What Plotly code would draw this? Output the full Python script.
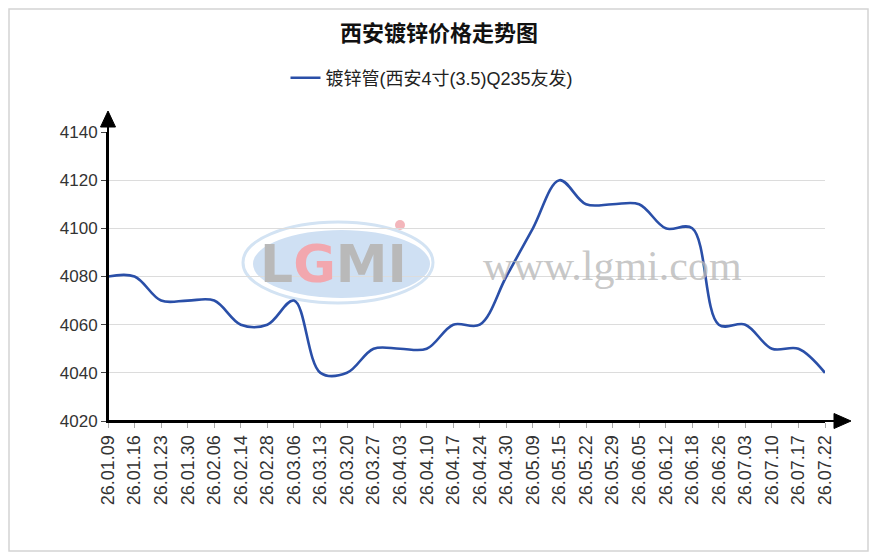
import plotly.graph_objects as go

# price series (yuan/ton)
dates = ["26.01.09", "26.01.16", "26.01.23", "26.01.30", "26.02.06", "26.02.14",
         "26.02.28", "26.03.06", "26.03.13", "26.03.20", "26.03.27", "26.04.03",
         "26.04.10", "26.04.17", "26.04.24", "26.04.30", "26.05.09", "26.05.15",
         "26.05.22", "26.05.29", "26.06.05", "26.06.12", "26.06.18", "26.06.26",
         "26.07.03", "26.07.10", "26.07.17", "26.07.22"]
prices = [4080, 4080, 4070, 4070, 4070, 4060, 4060, 4070, 4040, 4040, 4050, 4050,
          4050, 4060, 4060, 4080, 4100, 4120, 4110, 4110, 4110, 4100, 4100, 4060,
          4060, 4050, 4050, 4040]
y_ticks = [4020, 4040, 4060, 4080, 4100, 4120, 4140]

series_name = "镀锌管(西安4寸(3.5)Q235友发)"
title = "西安镀锌价格走势图"

# page body has an 8px margin, so the figure is drawn 8px in from the corner
OFF = 8
W, H = 878 - OFF, 560 - OFF
X0, X1, Y0, Y1 = 108, 825, 132, 421   # plot area in page pixels
FONT = "Liberation Sans, Arial, Noto Sans CJK SC, sans-serif"


# page pixel -> paper / container helpers for the decorations
def px(x):
    return (x - X0) / (X1 - X0)


def py(y):
    return (Y1 - y) / (Y1 - Y0)


def cx(x):
    return (x - OFF) / W


def cy(y):
    return 1 - (y - OFF) / H


fig = go.Figure()

fig.add_trace(go.Scatter(
    x=dates, y=prices, mode="lines", name=series_name,
    line=dict(color="#2a4fa8", width=2.6, shape="spline", smoothing=1),
))

shapes = []
# outer frame
shapes.append(dict(type="rect", xref="paper", yref="paper",
                   x0=px(9), x1=px(868), y0=py(551), y1=py(9),
                   line=dict(color="#d4d4d4", width=1.5), layer="below"))
# watermark logo ellipses
shapes.append(dict(type="circle", xref="paper", yref="paper",
                   x0=px(243), x1=px(433), y0=py(303), y1=py(222),
                   line=dict(color="#d3e3f3", width=3), fillcolor="rgba(0,0,0,0)",
                   layer="between"))
shapes.append(dict(type="circle", xref="paper", yref="paper",
                   x0=px(253), x1=px(430), y0=py(298), y1=py(230),
                   line=dict(width=0), fillcolor="#cfe0f3", layer="between"))
shapes.append(dict(type="circle", xref="paper", yref="paper",
                   x0=px(395), x1=px(405), y0=py(230), y1=py(220),
                   line=dict(width=0), fillcolor="#f3b6bb", layer="between"))
# axis extensions and arrow heads
shapes.append(dict(type="line", xref="paper", yref="paper",
                   x0=0, x1=0, y0=0, y1=py(124),
                   line=dict(color="black", width=2)))
shapes.append(dict(type="path", xref="paper", yref="paper",
                   path=f"M {px(108)},{py(111)} L {px(100.5)},{py(127)} "
                        f"L {px(115.5)},{py(127)} Z",
                   fillcolor="black", line=dict(color="black", width=1)))
shapes.append(dict(type="line", xref="paper", yref="paper",
                   x0=0, x1=px(836), y0=0, y1=0,
                   line=dict(color="black", width=2)))
shapes.append(dict(type="path", xref="paper", yref="paper",
                   path=f"M {px(851)},{py(421)} L {px(834)},{py(413.5)} "
                        f"L {px(834)},{py(428.5)} Z",
                   fillcolor="black", line=dict(color="black", width=1)))

annotations = [
    dict(xref="paper", yref="paper", x=px(333), y=py(264),
         xanchor="center", yanchor="middle",
         text="L<span style='color:#f2a7ae'>G</span>MI", showarrow=False,
         font=dict(family="DejaVu Sans", size=52, color="#b9b9b9", weight="bold")),
    dict(xref="paper", yref="paper", x=px(612), y=py(266),
         xanchor="center", yanchor="middle",
         text="www.lgmi.com", showarrow=False,
         font=dict(family="Liberation Serif, DejaVu Serif, serif", size=42,
                   color="rgba(185,185,185,0.8)")),
]

fig.update_layout(
    width=W, height=H,
    margin=dict(l=X0 - OFF, r=878 - X1, t=Y0 - OFF, b=560 - Y1, pad=0),
    paper_bgcolor="white", plot_bgcolor="white",
    font=dict(family=FONT, color="#333333"),
    title=dict(text=title, x=cx(439), xref="container", xanchor="center",
               y=cy(33), yref="container", yanchor="middle",
               font=dict(family="Noto Sans CJK SC, sans-serif", size=22,
                         color="#111111", weight="bold")),
    showlegend=True,
    legend=dict(orientation="h", x=cx(432), xref="container", xanchor="center",
                y=cy(78), yref="container", yanchor="middle",
                font=dict(family="Liberation Sans, Noto Sans CJK SC, sans-serif",
                          size=18, color="#222222"),
                bgcolor="rgba(0,0,0,0)"),
    xaxis=dict(type="category", range=[0, len(dates) - 1], showgrid=False,
               showline=True, linecolor="black", linewidth=2,
               ticks="outside", ticklen=5, tickcolor="#aaaaaa",
               tickangle=-90, tickfont=dict(size=18, color="#333333"),
               zeroline=False),
    yaxis=dict(range=[4020, 4140], tickvals=y_ticks, showgrid=True,
               gridcolor="#dcdcdc", gridwidth=1.2, showline=True,
               linecolor="black", linewidth=2, ticks="outside", ticklen=5,
               tickcolor="#444444", tickfont=dict(size=17, color="#333333"),
               zeroline=False),
    shapes=shapes,
    annotations=annotations,
    hovermode=False,
)

fig.write_html("out.html")
